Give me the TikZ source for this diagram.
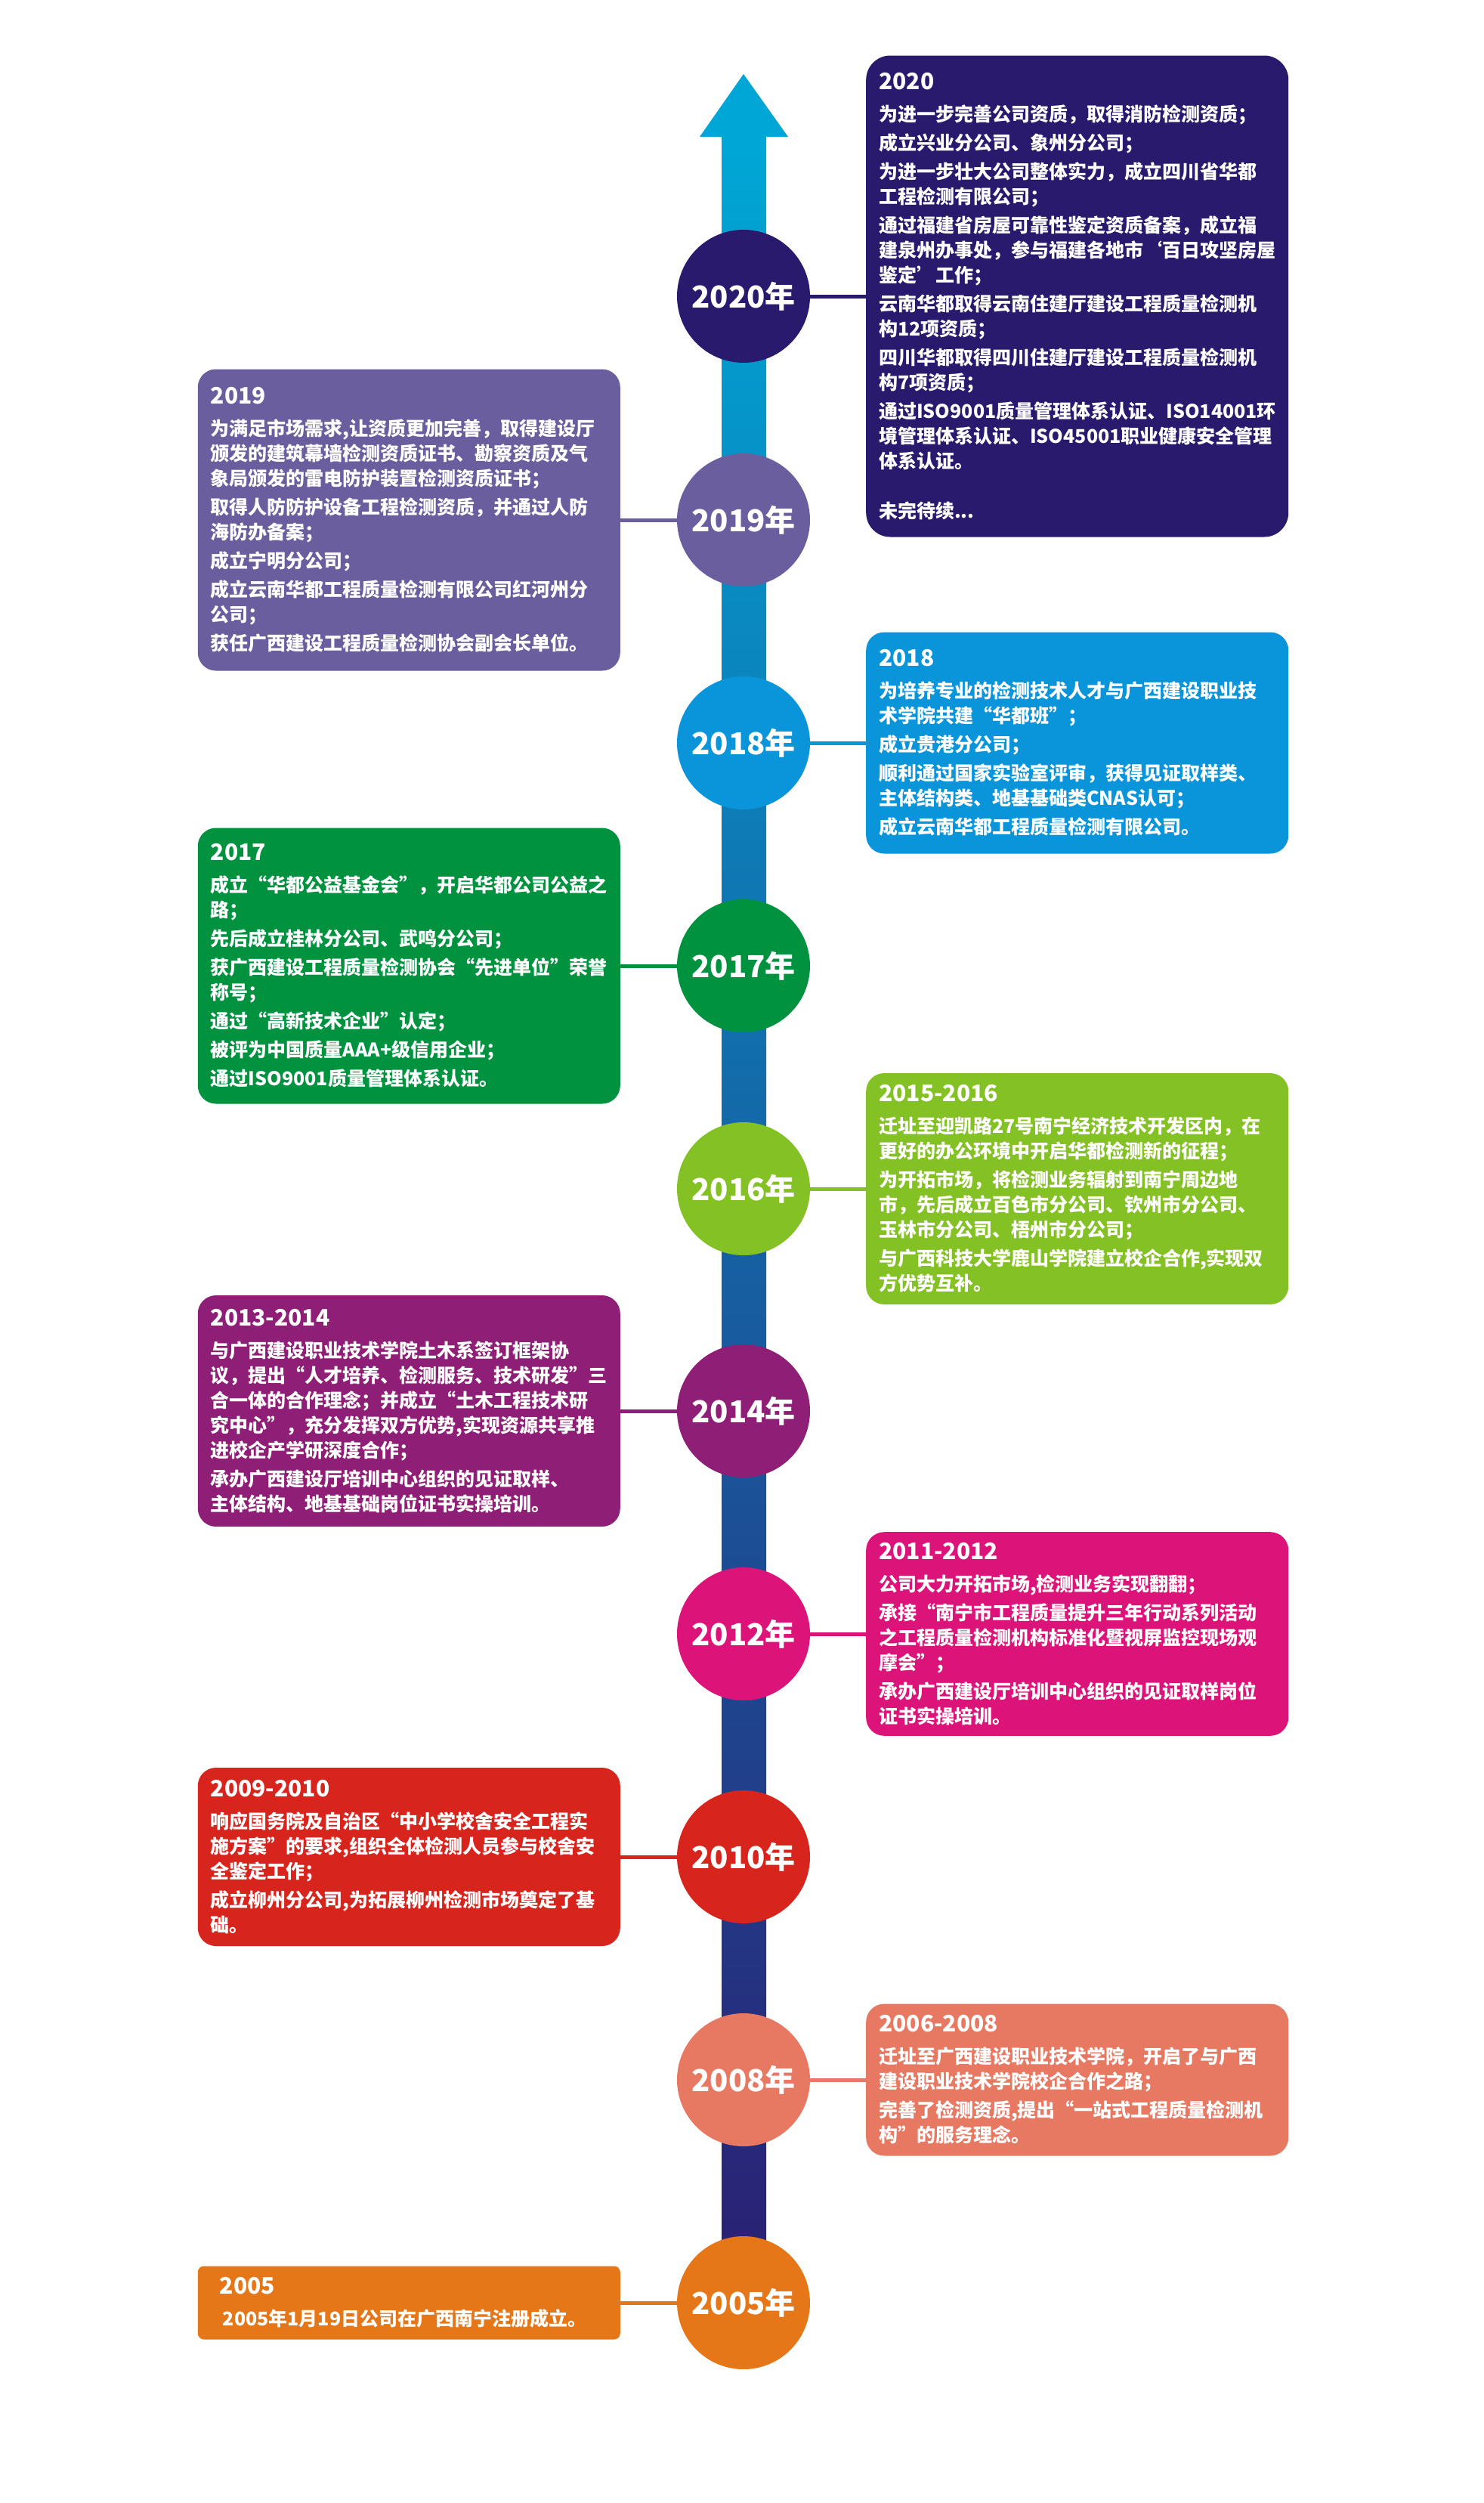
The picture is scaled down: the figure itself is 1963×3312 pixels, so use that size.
\documentclass[tikz,border=0pt]{standalone}
\usepackage{fontspec}
\newfontfamily\cjk{Noto Sans CJK SC}
\definecolor{navy}{HTML}{2A1A6E}
\definecolor{lavender}{HTML}{6B5E9E}
\definecolor{sky}{HTML}{0A94DA}
\definecolor{forest}{HTML}{00923F}
\definecolor{lime}{HTML}{84C125}
\definecolor{plum}{HTML}{8E1E76}
\definecolor{rose}{HTML}{DC1479}
\definecolor{scarlet}{HTML}{D7251E}
\definecolor{salmon}{HTML}{E77861}
\definecolor{tangerine}{HTML}{E67718}
\definecolor{shafttop}{HTML}{00A7D6}
\definecolor{shaftbot}{HTML}{2B1E72}
\newcommand{\yr}[1]{{\fontsize{30}{33}\selectfont #1}\\[9pt]}

\begin{document}
\begin{tikzpicture}[x=1pt,y=-1pt,
    year/.style={circle, minimum size=176pt, inner sep=0pt, fill=#1, text=white,
        font={\cjk\bfseries\fontsize{40}{40}\selectfont}},
    card/.style={rounded corners=24pt, fill=#1, text=white, align=left,
        text width=525pt, inner xsep=17pt, inner ysep=14pt,
        font={\cjk\bfseries\fontsize{25}{33}\selectfont}},
    link/.style={draw=#1, line width=5pt}]
    \useasboundingbox (0,0) rectangle (1963,3312);

    % timeline arrow
    \shade[top color=shafttop, bottom color=shaftbot] (955,178) rectangle (1014,3049);
    \fill[shafttop] (926,181) -- (984,98) -- (1043,181) -- cycle;

    % years
    \node[year=navy] at (984, 392)(c2020){2020年};
    \node[year=lavender] at (984, 688)(c2019){2019年};
    \node[year=sky] at (984, 983)(c2018){2018年};
    \node[year=forest] at (984, 1278)(c2017){2017年};
    \node[year=lime] at (984, 1573)(c2016){2016年};
    \node[year=plum] at (984, 1867)(c2014){2014年};
    \node[year=rose] at (984, 2162)(c2012){2012年};
    \node[year=scarlet] at (984, 2457)(c2010){2010年};
    \node[year=salmon] at (984, 2752)(c2008){2008年};
    \node[year=tangerine] at (984, 3047)(c2005){2005年};

    % events
    \node[card=navy, anchor=west, minimum height=637pt, rounded corners=32pt] at (1146, 392)(b2020){\yr{2020}%
        为进一步完善公司资质，取得消防检测资质；\\[5pt]
        成立兴业分公司、象州分公司；\\[5pt]
        为进一步壮大公司整体实力，成立四川省华都\\
        工程检测有限公司；\\[5pt]
        通过福建省房屋可靠性鉴定资质备案，成立福\\
        建泉州办事处，参与福建各地市‘百日攻坚房屋\\
        鉴定’工作；\\[5pt]
        云南华都取得云南住建厅建设工程质量检测机\\
        构12项资质；\\[5pt]
        四川华都取得四川住建厅建设工程质量检测机\\
        构7项资质；\\[5pt]
        通过ISO9001质量管理体系认证、ISO14001环\\
        境管理体系认证、ISO45001职业健康安全管理\\
        体系认证。\\[33pt]
        未完待续...};
    \node[card=lavender, anchor=east, minimum height=399pt] at (821, 688)(b2019){\yr{2019}%
        为满足市场需求,让资质更加完善，取得建设厅\\
        颁发的建筑幕墙检测资质证书、勘察资质及气\\
        象局颁发的雷电防护装置检测资质证书；\\[5pt]
        取得人防防护设备工程检测资质，并通过人防\\
        海防办备案；\\[5pt]
        成立宁明分公司；\\[5pt]
        成立云南华都工程质量检测有限公司红河州分\\
        公司；\\[5pt]
        获任广西建设工程质量检测协会副会长单位。};
    \node[card=sky, anchor=west, minimum height=293pt] at (1146, 983)(b2018){\yr{2018}%
        为培养专业的检测技术人才与广西建设职业技\\
        术学院共建“华都班”；\\[5pt]
        成立贵港分公司；\\[5pt]
        顺利通过国家实验室评审，获得见证取样类、\\
        主体结构类、地基基础类CNAS认可；\\[5pt]
        成立云南华都工程质量检测有限公司。};
    \node[card=forest, anchor=east, minimum height=365pt] at (821, 1278)(b2017){\yr{2017}%
        成立“华都公益基金会”，开启华都公司公益之\\
        路；\\[5pt]
        先后成立桂林分公司、武鸣分公司；\\[5pt]
        获广西建设工程质量检测协会“先进单位”荣誉\\
        称号；\\[5pt]
        通过“高新技术企业”认定；\\[5pt]
        被评为中国质量AAA+级信用企业；\\[5pt]
        通过ISO9001质量管理体系认证。};
    \node[card=lime, anchor=west, minimum height=306pt] at (1146, 1573)(b2016){\yr{2015-2016}%
        迁址至迎凯路27号南宁经济技术开发区内，在\\
        更好的办公环境中开启华都检测新的征程；\\[5pt]
        为开拓市场，将检测业务辐射到南宁周边地\\
        市，先后成立百色市分公司、钦州市分公司、\\
        玉林市分公司、梧州市分公司；\\[5pt]
        与广西科技大学鹿山学院建立校企合作,实现双\\
        方优势互补。};
    \node[card=plum, anchor=east, minimum height=306pt] at (821, 1867)(b2014){\yr{2013-2014}%
        与广西建设职业技术学院土木系签订框架协\\
        议，提出“人才培养、检测服务、技术研发”三\\
        合一体的合作理念；并成立“土木工程技术研\\
        究中心”，充分发挥双方优势,实现资源共享推\\
        进校企产学研深度合作；\\[5pt]
        承办广西建设厅培训中心组织的见证取样、\\
        主体结构、地基基础岗位证书实操培训。};
    \node[card=rose, anchor=west, minimum height=268pt] at (1146, 2162)(b2012){\yr{2011-2012}%
        公司大力开拓市场,检测业务实现翻翻；\\[5pt]
        承接“南宁市工程质量提升三年行动系列活动\\
        之工程质量检测机构标准化暨视屏监控现场观\\
        摩会”；\\[5pt]
        承办广西建设厅培训中心组织的见证取样岗位\\
        证书实操培训。};
    \node[card=scarlet, anchor=east, minimum height=236pt] at (821, 2457)(b2010){\yr{2009-2010}%
        响应国务院及自治区“中小学校舍安全工程实\\
        施方案”的要求,组织全体检测人员参与校舍安\\
        全鉴定工作；\\[5pt]
        成立柳州分公司,为拓展柳州检测市场奠定了基\\
        础。};
    \node[card=salmon, anchor=west, minimum height=201pt] at (1146, 2752)(b2008){\yr{2006-2008}%
        迁址至广西建设职业技术学院，开启了与广西\\
        建设职业技术学院校企合作之路；\\[5pt]
        完善了检测资质,提出“一站式工程质量检测机\\
        构”的服务理念。};
    \node[card=tangerine, anchor=east, minimum height=97pt, rounded corners=8pt, inner ysep=6pt] at (821, 3047)(b2005){\hspace*{12pt}\yr{2005}%
        \hspace*{16pt}2005年1月19日公司在广西南宁注册成立。};

    % connectors
    \draw[link=navy] (c2020) -- (b2020);
    \draw[link=lavender] (c2019) -- (b2019);
    \draw[link=sky] (c2018) -- (b2018);
    \draw[link=forest] (c2017) -- (b2017);
    \draw[link=lime] (c2016) -- (b2016);
    \draw[link=plum] (c2014) -- (b2014);
    \draw[link=rose] (c2012) -- (b2012);
    \draw[link=scarlet] (c2010) -- (b2010);
    \draw[link=salmon] (c2008) -- (b2008);
    \draw[link=tangerine] (c2005) -- (b2005);
\end{tikzpicture}
\end{document}
